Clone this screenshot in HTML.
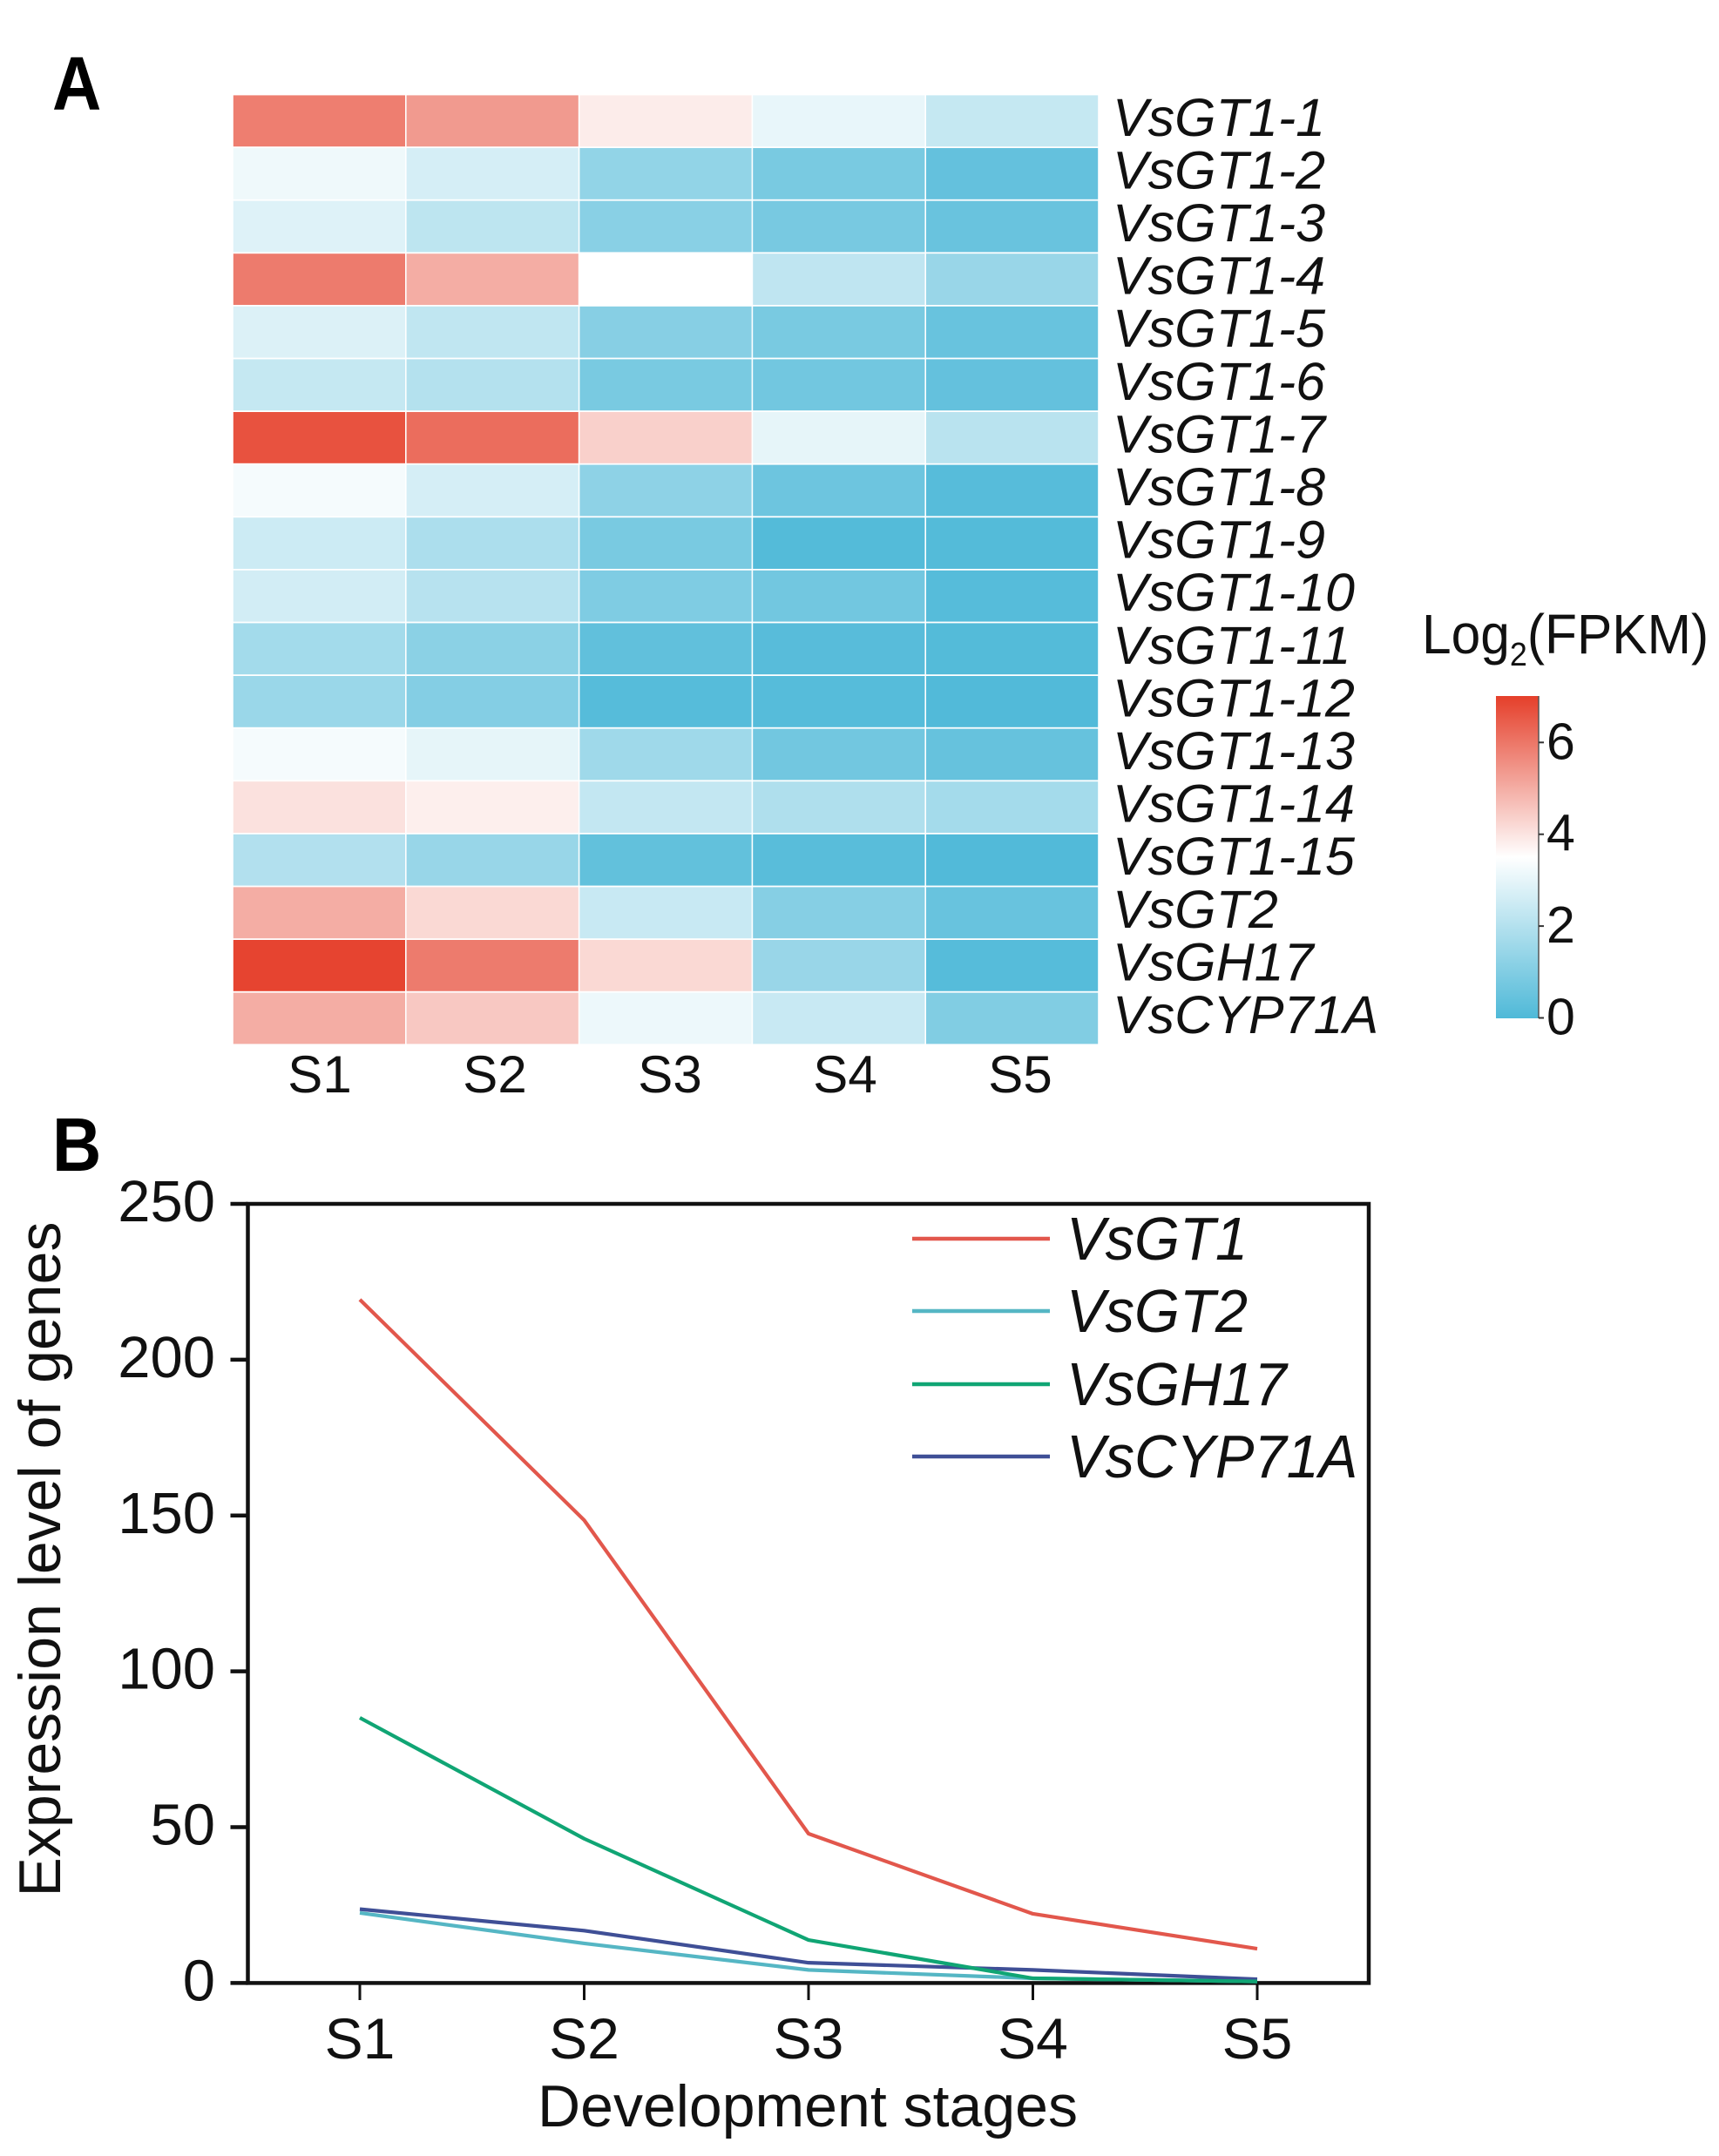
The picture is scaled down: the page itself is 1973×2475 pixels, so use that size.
<!DOCTYPE html>
<html lang="en">
<head>
<meta charset="utf-8">
<title>Gene expression heatmap and line chart</title>
<style>
html,body{margin:0;padding:0;background:#fff;}
body{width:1973px;height:2475px;overflow:hidden;}
svg{display:block;}
text{font-family:"Liberation Sans",sans-serif;fill:#111;}
</style>
</head>
<body>
<svg id="figure" xmlns="http://www.w3.org/2000/svg" width="1973" height="2475" viewBox="0 0 1973 2475">
  <rect x="0" y="0" width="1973" height="2475" fill="#fff"/>
  <defs>
    <linearGradient id="cbar" x1="0" y1="1" x2="0" y2="0">
      <stop offset="0" stop-color="#4fb9d8"/>
      <stop offset="0.5" stop-color="#ffffff"/>
      <stop offset="1" stop-color="#e53f2a"/>
    </linearGradient>
  </defs>
  <text transform="translate(60,126) scale(1,1.12)" font-size="78" font-weight="bold" style="fill:#000">A</text>
  <text transform="translate(60,1344) scale(1,1.12)" font-size="78" font-weight="bold" style="fill:#000">B</text>
  <g id="heatmap"></g>
  <g id="colorbar">
    <text transform="translate(1632,750) scale(0.945,1)" font-size="64">Log<tspan font-size="38" dy="14">2</tspan><tspan dy="-14">(FPKM)</tspan></text>
    <rect x="1717" y="799" width="49" height="370" fill="url(#cbar)"/>
    <line x1="1766" y1="799" x2="1766" y2="1169" stroke="#555" stroke-width="1.5"/>
  </g>
  <g id="linechart">
    <text transform="translate(69,1790) rotate(-90)" text-anchor="middle" font-size="68">Expression level of genes</text>
    <text x="927" y="2441" text-anchor="middle" font-size="68">Development stages</text>
  </g>
</svg>
<script>
// ----- Panel A data -----
const geneNames = ["VsGT1-1","VsGT1-2","VsGT1-3","VsGT1-4","VsGT1-5","VsGT1-6","VsGT1-7","VsGT1-8","VsGT1-9","VsGT1-10","VsGT1-11","VsGT1-12","VsGT1-13","VsGT1-14","VsGT1-15","VsGT2","VsGH17","VsCYP71A"];
const heatStages = ["S1","S2","S3","S4","S5"];
const heatValues = [
  [5.85,5.34,3.85,3.04,2.35],
  [3.18,2.66,1.33,0.84,0.42],
  [2.84,2.18,1.16,0.82,0.52],
  [5.90,5.00,3.50,2.22,1.47],
  [2.80,2.24,1.12,0.84,0.50],
  [2.35,2.00,0.84,0.70,0.42],
  [6.65,6.16,4.36,3.00,2.10],
  [3.30,2.66,1.26,0.60,0.15],
  [2.48,1.85,0.84,0.10,0.10],
  [2.60,2.07,0.95,0.70,0.14],
  [1.68,1.19,0.35,0.17,0.10],
  [1.50,1.05,0.14,0.14,0.05],
  [3.30,3.00,1.60,0.70,0.45],
  [4.05,3.80,2.30,1.90,1.70],
  [1.96,1.45,0.38,0.20,0.05],
  [5.00,4.20,2.40,1.10,0.50],
  [6.90,5.90,4.20,1.47,0.14],
  [5.00,4.50,3.15,2.40,1.00]
];
const colorbarTicks = [0,2,4,6];

// ----- Panel B data -----
const lineStages = ["S1","S2","S3","S4","S5"];
const yTickValues = [0,50,100,150,200,250];
const seriesNames = ["VsGT1","VsGT2","VsGH17","VsCYP71A"];
const seriesGT1 = [219.3,148.5,47.9,22.2,11];
const seriesGT2 = [22.5,12.7,4.2,1.5,0.5];
const seriesGH17 = [85.1,46.3,13.8,1.5,0.5];
const seriesCYP71A = [23.7,16.8,6.5,4.2,1.2];
const seriesColors = ["#e2574c","#55b6c4","#10a574","#3f4f96"];

const NS = "http://www.w3.org/2000/svg";
function make(tag, parent, attrs, txt) {
  const n = document.createElementNS(NS, tag);
  for (const k in attrs) n.setAttribute(k, attrs[k]);
  if (txt !== undefined) n.textContent = txt;
  parent.appendChild(n);
  return n;
}

// Colour scale
const cmapLow = [79,185,216], cmapMid = [255,255,255], cmapHigh = [229,63,42];
function heatColor(v) {
  const mid = 3.5, max = 7;
  let a, b, t;
  if (v < mid) { a = cmapLow; b = cmapMid; t = v / mid; }
  else { a = cmapMid; b = cmapHigh; t = (v - mid) / (max - mid); }
  const c = a.map((x, i) => Math.round(x + (b[i] - x) * t));
  return "rgb(" + c.join(",") + ")";
}

// Heatmap
const hm = document.getElementById("heatmap");
const hmLeft = 267, hmTop = 108.5, colW = 198.8, rowH = 60.6;
heatValues.forEach((row, r) => {
  row.forEach((v, c) => {
    const cell = make("rect", hm, {
      x: hmLeft + c * colW + 0.8, y: hmTop + r * rowH + 0.9,
      width: colW - 1.6, height: rowH - 1.8, fill: heatColor(v)
    });
    
    
  });
  const lab = make("text", hm, {
    x: 1277, y: hmTop + (r + 0.5) * rowH + 17,
    "font-size": 61, "font-style": "italic"
  }, geneNames[r]);
  
  
});
const hmLabelStep = 201, hmLabelStart = 367;
heatStages.forEach((s, c) => {
  const lab = make("text", hm, {
    x: hmLabelStart + c * hmLabelStep, y: 1254,
    "font-size": 60, "text-anchor": "middle"
  }, s);
  
  
});

// Colorbar ticks
const cb = document.getElementById("colorbar");
function cbY(v) { return 1168.5 - v * 52.7; }
colorbarTicks.forEach(v => {
  const tick = make("line", cb, { x1: 1766, x2: 1772, y1: cbY(v), y2: cbY(v), stroke: "#333", "stroke-width": 2 });
  
  
  const lab = make("text", cb, { x: 1775, y: cbY(v) + 19, "font-size": 59 }, String(v));
  
  
});

// Line chart
const lc = document.getElementById("linechart");
const axLeft = 284.5, axRight = 1571, axTop = 1382, axBottom = 2276.4;
function xPos(i) { return 413 + i * 257.5; }
function yPos(v) { return axBottom - v * (axBottom - axTop) / 250; }

const frame = make("rect", lc, { x: axLeft, y: axTop, width: axRight - axLeft, height: axBottom - axTop, fill: "none", stroke: "#111", "stroke-width": 4.5 });



yTickValues.forEach(v => {
  const tick = make("line", lc, { x1: 264.5, x2: axLeft, y1: yPos(v), y2: yPos(v), stroke: "#111", "stroke-width": 4.5 });
  
  
  const lab = make("text", lc, { x: 247, y: yPos(v) + 20, "font-size": 67, "text-anchor": "end" }, String(v));
  
  
});
lineStages.forEach((s, i) => {
  const tick = make("line", lc, { x1: xPos(i), x2: xPos(i), y1: axBottom, y2: 2296, stroke: "#111", "stroke-width": 3 });
  
  
  const lab = make("text", lc, { x: xPos(i), y: 2363, "font-size": 66, "text-anchor": "middle" }, s);
  
  
});

function drawSeries(values, color, name) {
  const pts = values.map((v, i) => xPos(i) + "," + yPos(v)).join(" ");
  const line = make("polyline", lc, { points: pts, fill: "none", stroke: color, "stroke-width": 4.2, "stroke-linejoin": "round" });
  
  
}
drawSeries(seriesGT1, seriesColors[0], 'series-vsgt1');
drawSeries(seriesGT2, seriesColors[1], 'series-vsgt2');
drawSeries(seriesCYP71A, seriesColors[3], 'series-vscyp71a');
drawSeries(seriesGH17, seriesColors[2], 'series-vsgh17');

// Legend
const legendY = [1422, 1505, 1589, 1672];
seriesNames.forEach((n, i) => {
  const sw = make("line", lc, { x1: 1047, x2: 1205, y1: legendY[i], y2: legendY[i], stroke: seriesColors[i], "stroke-width": 4.5 });
  
  
  const lab = make("text", lc, {
    transform: "translate(1224," + (legendY[i] + 24) + ") scale(0.955,1)",
    "font-size": 70, "font-style": "italic"
  }, n);
  
  
});
</script>
</body>
</html>
